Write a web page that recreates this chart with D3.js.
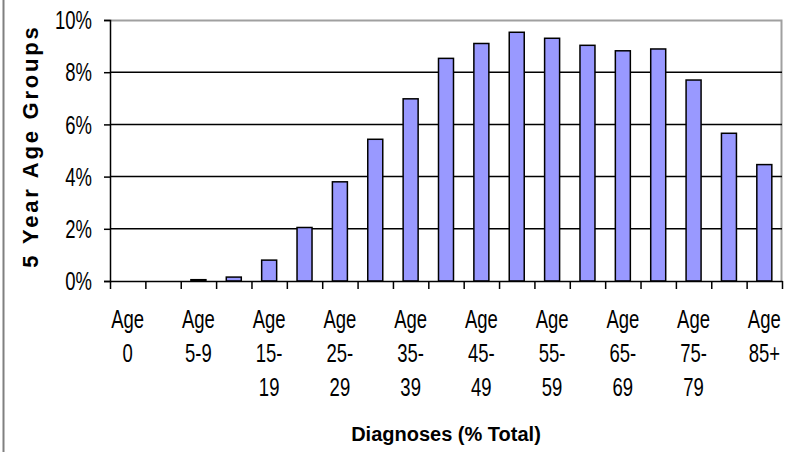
<!DOCTYPE html>
<html>
<head>
<meta charset="utf-8">
<script src="https://cdn.jsdelivr.net/npm/d3@7"></script>
<style>
  body { margin: 0; background: #fff; }
  .tick-label { font-family: "Liberation Sans", Arial, sans-serif; font-size: 25px; fill: #000; }
  .axis-title { font-family: "Liberation Sans", Arial, sans-serif; font-weight: bold; fill: #000; }
</style>
</head>
<body>
<div class="chart"></div>
<script>
// Set H/W/M
const svgWidth = 789;
const svgHeight = 452;

const margin = { top: 20, right: 7, bottom: 171, left: 110 };
const width = svgWidth - margin.left - margin.right;
const height = svgHeight - margin.top - margin.bottom;

// data
const ageGroups = ["Age 0", "Age 1-4", "Age 5-9", "Age 10-14", "Age 15-19", "Age 20-24",
  "Age 25-29", "Age 30-34", "Age 35-39", "Age 40-44", "Age 45-49", "Age 50-54",
  "Age 55-59", "Age 60-64", "Age 65-69", "Age 70-74", "Age 75-79", "Age 80-84", "Age 85+"];
const diagnoses = [0, 0, 0.05, 0.15, 0.8, 2.05, 3.8, 5.43, 6.98, 8.53, 9.1, 9.53,
  9.3, 9.03, 8.82, 8.89, 7.7, 5.66, 4.46];
// wrapped tick labels, only every other group is labelled
const tickLines = [["Age", "0"], [], ["Age", "5-9"], [], ["Age", "15-", "19"], [],
  ["Age", "25-", "29"], [], ["Age", "35-", "39"], [], ["Age", "45-", "49"], [],
  ["Age", "55-", "59"], [], ["Age", "65-", "69"], [], ["Age", "75-", "79"], [],
  ["Age", "85+"]];
const yTicks = [0, 2, 4, 6, 8, 10];

const narrow = 0.74; // squeeze the text like the narrow font of the original

const svg = d3.select(".chart")
  .append("svg")
  .attr("width", svgWidth)
  .attr("height", svgHeight);

// outer frame line at the left edge
svg.append("line")
  .attr("x1", 3.5).attr("x2", 3.5)
  .attr("y1", 0).attr("y2", svgHeight)
  .attr("stroke", "#808080")
  .attr("stroke-width", 2);

const chartGroup = svg.append("g")
  .attr("transform", `translate(${margin.left}, ${margin.top})`);

// scales
const xBand = d3.scaleBand()
  .domain(ageGroups)
  .range([0, width])
  .paddingInner(0.576)
  .paddingOuter(0.288);

const xIndex = d3.scaleLinear()
  .domain([0, ageGroups.length])
  .range([0, width]);

const yLinearScale = d3.scaleLinear()
  .domain([0, 10])
  .range([height, 0]);

// plot border (top and right, grey)
chartGroup.append("path")
  .attr("d", `M0,0.5H${width - 0.5}V${height}`)
  .attr("fill", "none")
  .attr("stroke", "#a0a0a0")
  .attr("stroke-width", 2);

// gridlines
chartGroup.append("g")
  .selectAll("line")
  .data(yTicks.filter(d => d > 0 && d < 10))
  .enter()
  .append("line")
  .attr("x1", 0)
  .attr("x2", width)
  .attr("y1", d => yLinearScale(d))
  .attr("y2", d => yLinearScale(d))
  .attr("stroke", "#000")
  .attr("stroke-width", 1.5);

// bars
chartGroup.selectAll("rect.bar")
  .data(diagnoses)
  .enter()
  .append("rect")
  .attr("class", "bar")
  .attr("x", (d, i) => xBand(ageGroups[i]))
  .attr("y", d => yLinearScale(d))
  .attr("width", xBand.bandwidth())
  .attr("height", d => height - yLinearScale(d))
  .attr("fill", "#9999ff")
  .attr("stroke", "#000")
  .attr("stroke-width", 1.5)
  .style("display", d => d > 0 ? null : "none");

// y axis
const leftAxis = d3.axisLeft(yLinearScale)
  .tickValues(yTicks)
  .tickSize(6)
  .tickFormat(d => d + "%");

const yAxis = chartGroup.append("g").call(leftAxis);
yAxis.select(".domain").attr("stroke", "#000").attr("stroke-width", 1.5);
yAxis.selectAll(".tick line").attr("stroke", "#000").attr("stroke-width", 1.5);
yAxis.selectAll(".tick text")
  .attr("class", "tick-label")
  .attr("x", -18 / narrow)
  .attr("dy", "0.35em")
  .attr("transform", `scale(${narrow},1)`);
yAxis.attr("font-size", null).attr("font-family", null);

// x axis tick marks at group boundaries
const bottomAxis = d3.axisBottom(xIndex)
  .tickValues(d3.range(ageGroups.length + 1))
  .tickSize(8)
  .tickSizeOuter(0)
  .tickFormat("");

const xAxis = chartGroup.append("g")
  .attr("transform", `translate(0, ${height})`)
  .call(bottomAxis);
xAxis.select(".domain").attr("stroke", "#000").attr("stroke-width", 1.5);
xAxis.selectAll(".tick line").attr("stroke", "#000").attr("stroke-width", 1.5);

// x axis category labels
const labelAxis = d3.axisBottom(xBand).tickSize(0).tickFormat("");
const xLabels = chartGroup.append("g")
  .attr("transform", `translate(0, ${height})`)
  .call(labelAxis);
xLabels.select(".domain").remove();
xLabels.selectAll(".tick").each(function(d, i) {
  const t = d3.select(this).append("text")
    .attr("class", "tick-label")
    .attr("text-anchor", "middle")
    .attr("transform", `scale(${narrow},1)`);
  tickLines[i].forEach((line, j) => {
    t.append("tspan")
      .attr("x", 0)
      .attr("y", 47 + j * 34)
      .text(line);
  });
});

// axis titles
chartGroup.append("text")
  .attr("class", "axis-title")
  .attr("transform", "rotate(-90)")
  .attr("x", -126)
  .attr("y", -72)
  .attr("text-anchor", "middle")
  .attr("font-size", 22)
  .attr("letter-spacing", 2.8)
  .text("5 Year Age Groups");

chartGroup.append("text")
  .attr("class", "axis-title")
  .attr("x", width / 2)
  .attr("y", 441 - margin.top)
  .attr("text-anchor", "middle")
  .attr("font-size", 20)
  .text("Diagnoses (% Total)");
</script>
</body>
</html>
